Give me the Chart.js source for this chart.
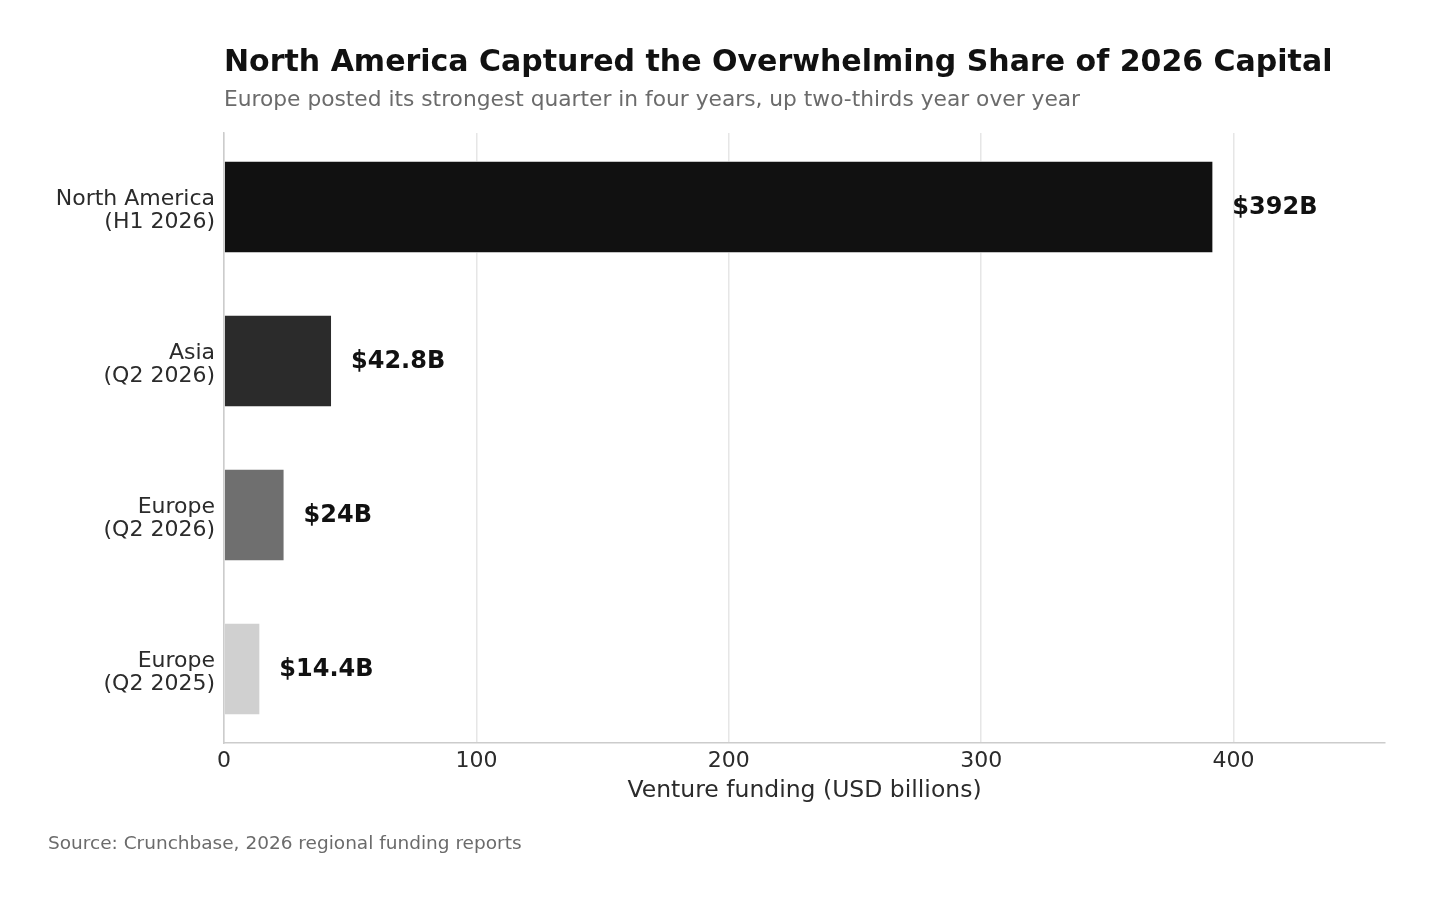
<!DOCTYPE html>
<html>
<head>
<meta charset="utf-8">
<title>Regional venture funding 2026</title>
<script src="https://cdn.jsdelivr.net/npm/chart.js@4.4.1/dist/chart.umd.min.js"></script>
<style>
  body { margin: 0; background: #ffffff; }
  #wrap { width: 1433px; height: 900px; }
</style>
</head>
<body>
<div id="wrap"><canvas id="fundingChart" width="1433" height="900"></canvas></div>
<script>
////////// Data //////////
const regions = ['North America', 'Asia', 'Europe', 'Europe']
const periods = ['(H1 2026)', '(Q2 2026)', '(Q2 2026)', '(Q2 2025)']
const funding = [392, 42.8, 24, 14.4]
const barColors = ['#111111', '#2b2b2b', '#6f6f6f', '#d0d0d0']
const xTickValues = [0, 100, 200, 300, 400]
const xMax = 460

const titleText = 'North America Captured the Overwhelming Share of 2026 Capital'
const subtitleText = 'Europe posted its strongest quarter in four years, up two-thirds year over year'
const sourceText = 'Source: Crunchbase, 2026 regional funding reports'
const xTitle = 'Venture funding (USD billions)'

const fontFamily = '"DejaVu Sans", sans-serif'

////////// Extra text: title, subtitle, source, bar values //////////
const textPlugin = {
  id: 'extraText',
  afterDraw: chart => {
    const ctx = chart.ctx
    const area = chart.chartArea
    ctx.save()
    ctx.textAlign = 'left'
    ctx.textBaseline = 'alphabetic'

    ctx.fillStyle = '#111111'
    ctx.font = 'bold 30px ' + fontFamily
    ctx.fillText(titleText, area.left, 71)

    ctx.fillStyle = '#6b6b6b'
    ctx.font = '21.75px ' + fontFamily
    ctx.fillText(subtitleText, area.left, 106)

    ctx.font = '18.5px ' + fontFamily
    ctx.fillText(sourceText, 48, 849)

    // value labels next to each bar
    ctx.fillStyle = '#111111'
    ctx.font = 'bold 24px ' + fontFamily
    ctx.textBaseline = 'middle'
    chart.getDatasetMeta(0).data.forEach((bar, i) => {
      ctx.fillText('$' + funding[i] + 'B', bar.x + 19, bar.y + 1)
    })
    ctx.restore()
  }
}

////////// Chart //////////
const ctx = document.getElementById('fundingChart').getContext('2d')

const fundingChart = new Chart(ctx, {
  type: 'bar',
  data: {
    datasets: [{
      data: funding.map((v, i) => ({ x: v, y: i })),
      backgroundColor: barColors,
      borderColor: '#ffffff',
      borderWidth: 1,
      barPercentage: 0.6,
      categoryPercentage: 1
    }]
  },
  options: {
    indexAxis: 'y',
    responsive: false,
    animation: false,
    devicePixelRatio: 1,
    layout: {
      padding: { top: 133, right: 48, left: 0, bottom: 0 }
    },
    plugins: {
      legend: { display: false },
      tooltip: { enabled: false }
    },
    scales: {
      x: {
        type: 'linear',
        min: 0,
        max: xMax,
        afterBuildTicks: axis => {
          axis.ticks = xTickValues.map(v => ({ value: v }))
        },
        afterFit: scale => { scale.height = 157 },
        grid: {
          color: '#e6e6e6',
          lineWidth: 1.5,
          drawTicks: false
        },
        border: { display: true, color: '#cccccc', width: 1.5 },
        ticks: {
          padding: 5,
          color: '#2b2b2b',
          font: { family: fontFamily, size: 22, lineHeight: 1.2 }
        },
        title: {
          display: true,
          text: xTitle,
          color: '#2b2b2b',
          font: { family: fontFamily, size: 23.5, lineHeight: 1.2 },
          padding: { top: 0, bottom: 95 }
        }
      },
      y: {
        type: 'linear',
        reverse: true,
        offset: false,
        min: -0.48,
        max: regions.length - 0.52,
        afterBuildTicks: axis => {
          axis.ticks = regions.map((_, i) => ({ value: i }))
        },
        afterFit: scale => { scale.width = 224 },
        grid: { display: false, drawTicks: false, offset: false },
        border: { display: true, color: '#cccccc', width: 1.5 },
        ticks: {
          padding: 9,
          labelOffset: 4,
          color: '#2b2b2b',
          font: { family: fontFamily, size: 22, lineHeight: 1.06 },
          callback: value => [regions[value], periods[value]]
        }
      }
    }
  },
  plugins: [textPlugin]
})
</script>
</body>
</html>
